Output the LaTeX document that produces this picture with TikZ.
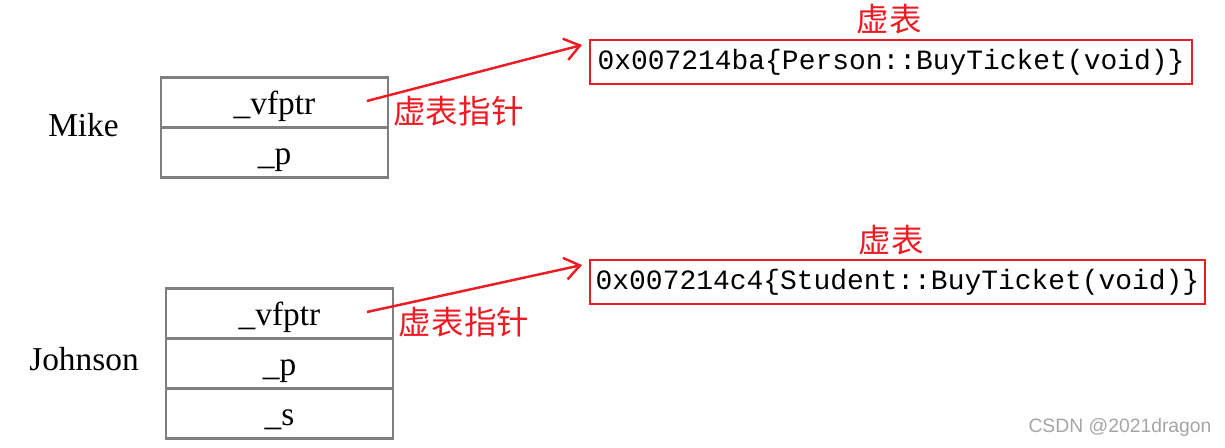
\documentclass[tikz,border=0pt]{standalone}
\usepackage{fontspec}
\setmainfont{Liberation Serif}
\newfontfamily\cjk{Noto Sans CJK SC}
\newfontfamily\codefont{Liberation Mono}
\newfontfamily\markfont{Liberation Sans}
\usetikzlibrary{arrows.meta}

\definecolor{vtred}{RGB}{237,28,36}
\definecolor{cellgray}{RGB}{127,127,127}
\definecolor{markgray}{RGB}{165,165,165}

\begin{document}
\begin{tikzpicture}[
  cell/.style={draw=cellgray,line width=1.7pt,minimum width=4.54cm,minimum height=1cm,inner sep=0pt,text height=13.6pt,text depth=0pt,font=\fontsize{19}{22}\selectfont},
  objname/.style={font=\fontsize{19}{22}\selectfont},
  vtable/.style={draw=vtred,line width=1.6pt,minimum height=0.88cm,inner sep=0pt,font=\codefont\fontsize{15.9}{18}\selectfont},
  redtext/.style={text=vtred,font=\cjk\fontsize{18.5}{21}\selectfont},
  ptr/.style={draw=vtred,line width=1.4pt,-{Straight Barb[length=0.3cm,width=0.44cm]}}
]
  \useasboundingbox (0,0) rectangle (24.5,8.96);
  % Mike
  \node at(1.67,6.46)[objname](mike){Mike};
  \node at(5.49,6.90)[cell](mvf){\_vfptr};
  \node at(5.49,5.90)[cell](mp){\_p};
  % Johnson
  \node at(1.68,1.78)[objname](johnson){Johnson};
  \node at(5.59,2.68)[cell](jvf){\_vfptr};
  \node at(5.59,1.68)[cell](jp){\_p};
  \node at(5.59,0.68)[cell](js){\_s};
  % Virtual tables
  \node at(17.78,8.57)[redtext](vtitle1){虚表};
  \node at(17.82,7.72)[vtable,minimum width=12.04cm](vt1){0x007214ba\{Person::BuyTicket(void)\}};
  \node at(17.82,4.16)[redtext](vtitle2){虚表};
  \node at(17.95,3.32)[vtable,minimum width=12.30cm](vt2){0x007214c4\{Student::BuyTicket(void)\}};
  % Pointers
  \coordinate (m1) at (7.34,6.94);
  \coordinate (m2) at (11.64,8.06);
  \coordinate (j1) at (7.34,2.72);
  \coordinate (j2) at (11.64,3.66);
  \draw[ptr] (m1) -- (m2);
  \draw[ptr] (j1) -- (j2);
  \node at(9.17,6.73)[redtext](mlabel){虚表指针};
  \node at(9.28,2.51)[redtext](jlabel){虚表指针};
  % Watermark
  \node at(22.40,0.40)[text=markgray,font=\markfont\fontsize{11}{13}\selectfont](mark){CSDN @2021dragon};
\end{tikzpicture}
\end{document}
